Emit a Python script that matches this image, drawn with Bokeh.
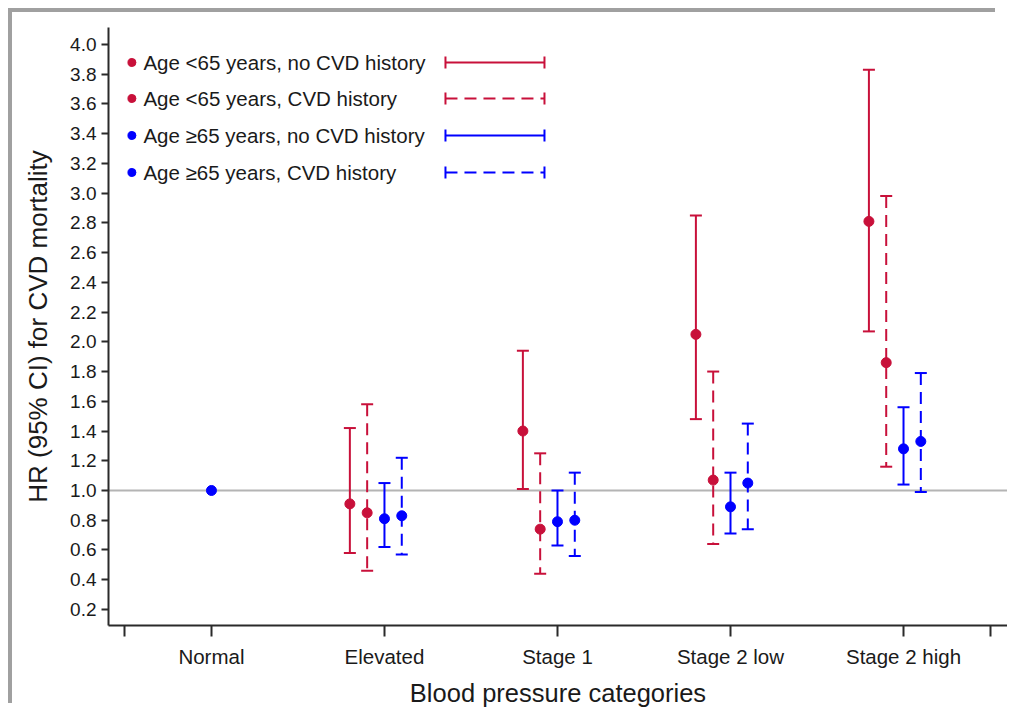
import math
from bokeh.plotting import figure
from bokeh.models import FixedTicker, Span, NumeralTickFormatter
from bokeh.core.properties import value
from bokeh.embed import file_html
from bokeh.resources import INLINE

# ---------------- data ----------------
categories = ["Normal", "Elevated", "Stage 1", "Stage 2 low", "Stage 2 high"]
reference_hr = 1.0  # Normal = reference category

series_labels = [
    "Age <65 years, no CVD history",
    "Age <65 years, CVD history",
    "Age \u226565 years, no CVD history",
    "Age \u226565 years, CVD history",
]

# HR, lower and upper CI for Elevated, Stage 1, Stage 2 low, Stage 2 high
young_nocvd_hr = [0.91, 1.40, 2.05, 2.81]
young_nocvd_lo = [0.58, 1.01, 1.48, 2.07]
young_nocvd_hi = [1.42, 1.94, 2.85, 3.83]

young_cvd_hr = [0.85, 0.74, 1.07, 1.86]
young_cvd_lo = [0.46, 0.44, 0.64, 1.16]
young_cvd_hi = [1.58, 1.25, 1.80, 2.98]

old_nocvd_hr = [0.81, 0.79, 0.89, 1.28]
old_nocvd_lo = [0.62, 0.63, 0.71, 1.04]
old_nocvd_hi = [1.05, 1.00, 1.12, 1.56]

old_cvd_hr = [0.83, 0.80, 1.05, 1.33]
old_cvd_lo = [0.57, 0.56, 0.74, 0.99]
old_cvd_hi = [1.22, 1.12, 1.45, 1.79]

y_ticks = [0.2, 0.4, 0.6, 0.8, 1.0, 1.2, 1.4, 1.6, 1.8, 2.0, 2.2, 2.4, 2.6, 2.8,
           3.0, 3.2, 3.4, 3.6, 3.8, 4.0]

# ---------------- styles ----------------
RED = "#C8103A"
BLUE = "#0000FF"
FONT = "Liberation Sans"
series_colors = [RED, RED, BLUE, BLUE]
series_dash = ["solid", "12 7", "solid", "12 7"]
series_offset = [-0.2, -0.1, 0.0, 0.1]

X0, X1 = -0.595, 4.601
Y0, Y1 = 0.092, 4.114

p = figure(width=995, height=703, x_range=(X0, X1), y_range=(Y0, Y1),
           output_backend="svg", toolbar_location=None,
           min_border_left=96, min_border_right=0, min_border_top=15,
           min_border_bottom=90,
           styles={"margin-left": "12px", "margin-top": "12px",
                   "box-shadow": "-8px -8px 0px -4px #a0a0a0"})
p.grid.visible = False
p.outline_line_color = None
p.background_fill_color = "white"
p.border_fill_color = "white"

# reference line at HR = 1
p.add_layout(Span(location=reference_hr, dimension="width",
                  line_color="#b4b4b4", line_width=2, level="underlay"))

# axes
ax = p.xaxis[0]
xt = [-0.5] + list(range(len(categories))) + [len(categories) - 0.5]
ax.ticker = FixedTicker(ticks=xt)
ov = {-0.5: "", len(categories) - 0.5: ""}
for i, c in enumerate(categories):
    ov[i] = c
ax.major_label_overrides = ov
ax.minor_tick_line_color = None
ax.major_tick_out = 11
ax.major_tick_in = 0
ax.axis_label = "Blood pressure categories"
ax.axis_label_text_font = FONT
ax.axis_label_text_font_style = "normal"
ax.axis_label_text_font_size = "25.5px"
ax.axis_label_standoff = 8
ax.major_label_text_font = FONT
ax.major_label_text_font_size = "20.5px"
ax.major_label_standoff = 8

ay = p.yaxis[0]
ay.ticker = FixedTicker(ticks=y_ticks)
ay.formatter = NumeralTickFormatter(format="0.0")
ay.minor_tick_line_color = None
ay.major_tick_out = 7
ay.major_tick_in = 0
ay.axis_label = "HR (95% CI) for CVD mortality"
ay.axis_label_text_font = FONT
ay.axis_label_text_font_style = "normal"
ay.axis_label_text_font_size = "26px"
ay.axis_label_standoff = 14
ay.major_label_text_font = FONT
ay.major_label_text_font_size = "19px"
ay.major_label_standoff = 5

for a in (ax, ay):
    a.axis_line_color = "#2a2a2a"
    a.axis_line_width = 2
    a.major_tick_line_color = "#2a2a2a"
    a.major_tick_line_width = 2
    a.major_label_text_color = "#1a1a1a"
    a.axis_label_text_color = "#1a1a1a"

# data series
all_hr = [young_nocvd_hr, young_cvd_hr, old_nocvd_hr, old_cvd_hr]
all_lo = [young_nocvd_lo, young_cvd_lo, old_nocvd_lo, old_cvd_lo]
all_hi = [young_nocvd_hi, young_cvd_hi, old_nocvd_hi, old_cvd_hi]

for hr, lo, hi, col, dash, off in zip(all_hr, all_lo, all_hi, series_colors,
                                      series_dash, series_offset):
    xs = [i + 1 + off for i in range(len(hr))]
    p.segment(x0=xs, y0=hi, x1=xs, y1=lo, line_color=col, line_width=2,
              line_dash=dash)
    p.scatter(x=xs + xs, y=lo + hi, marker="dash", size=12, line_color=col,
              line_width=2, angle=0)
    p.scatter(x=xs, y=hr, marker="circle", size=10, fill_color=col,
              line_color=col)

# reference point (Normal)
p.scatter(x=[0], y=[reference_hr], marker="circle", size=10,
          fill_color=BLUE, line_color=BLUE)

# ---------------- legend (drawn by hand) ----------------
def px2x(px):
    return (px - 211.0) / 173.0

def py2y(py):
    return 1.0 + (490.0 - py) / 148.68

rows_py = [62, 98, 135, 172]
for lab, col, dash, py in zip(series_labels, series_colors, series_dash, rows_py):
    y = py2y(py)
    p.scatter(x=[px2x(131.5)], y=[y], marker="circle", size=8,
              fill_color=col, line_color=col)
    p.text(x=[px2x(143)], y=[y], text=[lab], text_font=value(FONT),
           text_font_size="20.5px", text_baseline="middle", text_align="left",
           text_color="#1a1a1a")
    xa, xb = px2x(445), px2x(544)
    p.segment(x0=[xa], y0=[y], x1=[xb], y1=[y], line_color=col,
              line_width=2, line_dash=dash)
    p.scatter(x=[xa, xb], y=[y, y], marker="dash", size=12, angle=math.pi / 2,
              line_color=col, line_width=2)

open("out.html", "w").write(file_html(p, INLINE))
